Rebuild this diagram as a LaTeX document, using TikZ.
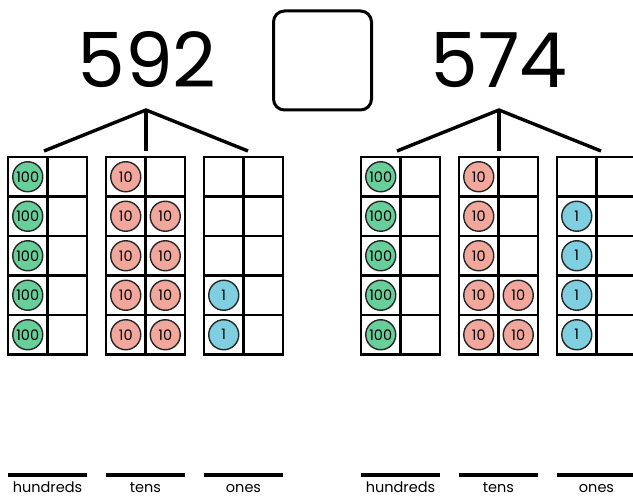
\documentclass[tikz,border=0pt]{standalone}
\usepackage{fontspec}
\setmainfont{Poppins}
\definecolor{hgreen}{HTML}{68CE9A}
\definecolor{tpink}{HTML}{F2A79C}
\definecolor{oblue}{HTML}{80CFE1}
\begin{document}
\begin{tikzpicture}[x=1pt,y=-1pt,
  cell/.style={draw=black, line width=2.6pt, minimum width=39.5pt, minimum height=39.5pt, inner sep=0pt, outer sep=0pt},
  counter/.style={circle, draw=black!85, line width=1.4pt, minimum size=30pt, inner sep=0pt, font=\fontsize{14.5}{14.5}\selectfont},
  hund/.style={counter, fill=hgreen},
  ten/.style={counter, fill=tpink},
  one/.style={counter, fill=oblue},
  bignum/.style={inner sep=0pt, font=\fontsize{76}{76}\selectfont},
  tree/.style={line width=3.4pt},
  base/.style={line width=3.4pt},
  lbl/.style={inner sep=0pt, anchor=base, font=\fontsize{14.5}{14.5}\selectfont}
]
\useasboundingbox (0,0) rectangle (633,497);
\clip (0,0) rectangle (633,497);
% numbers and comparison box
\node[bignum] (n1) at (147,60) {592};
\node[bignum] (n2) at (499,60) {574};
\node[draw=black, line width=3pt, rounded corners=11pt, minimum width=98pt, minimum height=99pt, inner sep=0pt] (cmp) at (322.5,60.5) {};
% grids
\foreach \g/\gx in {A/8, B/106, C/204, D/361, E/459, F/557} {
  \foreach \r in {1,...,5} {
    \foreach \c in {1,2} {
      \node[cell] (\g-\r-\c) at ({\gx+(\c-0.5)*39.5},{157+(\r-0.5)*39.5}) {};
    }
  }
}
% tree connectors
\coordinate (apL) at (146,110);
\coordinate (aL1) at (44,151);
\coordinate (aL2) at (146,151);
\coordinate (aL3) at (248,151);
\coordinate (apR) at (499,110);
\coordinate (aR1) at (397,151);
\coordinate (aR2) at (499,151);
\coordinate (aR3) at (601,151);
\draw[tree] (aL1) -- (apL) -- (aL3);
\draw[tree] (apL) -- (aL2);
\draw[tree] (aR1) -- (apR) -- (aR3);
\draw[tree] (apR) -- (aR2);
% counters: left number 592
\foreach \r in {1,...,5} \node[hund] (hA\r) at (A-\r-1) {100};
\node[ten] (tB11) at (B-1-1) {10};
\foreach \r in {2,...,5} {
  \node[ten] (tB\r1) at (B-\r-1) {10};
  \node[ten] (tB\r2) at (B-\r-2) {10};
}
\foreach \r in {4,5} \node[one] (oC\r) at (C-\r-1) {1};
% counters: right number 574
\foreach \r in {1,...,5} \node[hund] (hD\r) at (D-\r-1) {100};
\foreach \r in {1,2,3} \node[ten] (tE\r1) at (E-\r-1) {10};
\foreach \r in {4,5} {
  \node[ten] (tE\r1) at (E-\r-1) {10};
  \node[ten] (tE\r2) at (E-\r-2) {10};
}
\foreach \r in {2,...,5} \node[one] (oF\r) at (F-\r-1) {1};
% base lines and labels
\foreach \g/\gx/\t in {A/8/hundreds, B/106/tens, C/204/ones, D/361/hundreds, E/459/tens, F/557/ones} {
  \coordinate (\g-bl) at (\gx,475);
  \coordinate (\g-br) at ({\gx+79},475);
  \draw[base] (\g-bl) -- (\g-br);
  \node[lbl] (\g-lab) at ({\gx+39.5},493) {\t};
}
\end{tikzpicture}
\end{document}
